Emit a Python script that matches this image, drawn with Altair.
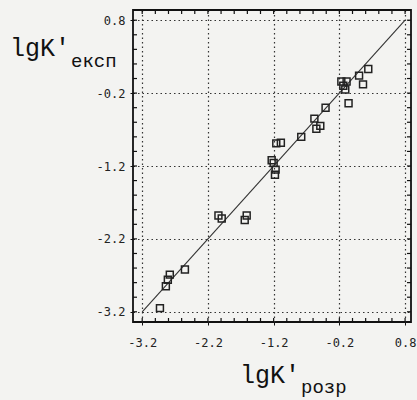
import altair as alt
import pandas as pd

# lgK'розр (x) and lgK'експ (y) of the points
x_rozr = [-0.17, -0.09, -0.14, -0.11, -0.06, 0.10, 0.16, 0.24, -0.41, -0.58,
          -0.49, -0.55, -0.78, -1.16, -1.09, -1.23, -1.20, -1.17, -1.18, -2.04,
          -1.99, -1.61, -1.64, -2.78, -2.81, -2.84, -2.55, -2.93]
y_eksp = [-0.04, -0.04, -0.10, -0.15, -0.34, 0.04, -0.08, 0.13, -0.40, -0.55,
          -0.65, -0.69, -0.80, -0.89, -0.88, -1.12, -1.16, -1.25, -1.32, -1.88,
          -1.92, -1.88, -1.94, -2.69, -2.76, -2.85, -2.62, -3.15]

# y = x line
line_x = [-3.2, 0.8]
line_y = [-3.2, 0.8]

major_ticks = [-3.2, -2.2, -1.2, -0.2, 0.8]
minor_ticks = [-3.2, -3.0, -2.8, -2.6, -2.4, -2.2, -2.0, -1.8, -1.6, -1.4, -1.2,
               -1.0, -0.8, -0.6, -0.4, -0.2, 0.0, 0.2, 0.4, 0.6, 0.8]

title_main = "lgK'"
y_sub = "експ"
x_sub = "розр"

W, H = 278, 312
XDOM = [-3.34, 0.89]
YDOM = [-3.34, 0.94]

pts = pd.DataFrame({"x": x_rozr, "y": y_eksp})
ln = pd.DataFrame({"x": line_x, "y": line_y})
mt = pd.DataFrame({"v": minor_ticks})

xs = alt.Scale(domain=XDOM, nice=False, zero=False)
ys = alt.Scale(domain=YDOM, nice=False, zero=False)

axis_common = dict(
    values=major_ticks,
    labelExpr="toString(datum.value)",
    grid=True,
    gridColor="#333",
    gridDash=[1.5, 3],
    gridWidth=1.2,
    domain=False,
    ticks=True,
    tickSize=3,
    tickColor="#111",
    labelFont="DejaVu Sans Mono",
    labelFontSize=12,
    labelColor="#222",
    title=None,
)

line = alt.Chart(ln).mark_line(color="#333", strokeWidth=1.1).encode(
    x=alt.X("x:Q", scale=xs, axis=alt.Axis(labelPadding=12, **axis_common)),
    y=alt.Y("y:Q", scale=ys, axis=alt.Axis(labelPadding=5, **axis_common)),
)

points = alt.Chart(pts).mark_point(
    shape="square", filled=False, size=48, color="#222", strokeWidth=1.5, opacity=1
).encode(x=alt.X("x:Q", scale=xs), y=alt.Y("y:Q", scale=ys))

tick_len = 4
rule_style = dict(color="#111", strokeWidth=1.2)
bottom_t = alt.Chart(mt).mark_rule(**rule_style).encode(
    x=alt.X("v:Q", scale=xs), y=alt.value(H), y2=alt.value(H - tick_len))
top_t = alt.Chart(mt).mark_rule(**rule_style).encode(
    x=alt.X("v:Q", scale=xs), y=alt.value(0), y2=alt.value(tick_len))
left_t = alt.Chart(mt).mark_rule(**rule_style).encode(
    y=alt.Y("v:Q", scale=ys), x=alt.value(0), x2=alt.value(tick_len))
right_t = alt.Chart(mt).mark_rule(**rule_style).encode(
    y=alt.Y("v:Q", scale=ys), x=alt.value(W), x2=alt.value(W - tick_len))


def text_label(txt, size, xv, yv):
    return alt.Chart(pd.DataFrame({"t": [txt]})).mark_text(
        font="Liberation Mono", fontSize=size, align="left",
        baseline="alphabetic", color="#111"
    ).encode(text="t:N", x=alt.value(xv), y=alt.value(yv))


yt_main = text_label(title_main, 25, -123, 46)
yt_sub = text_label(y_sub, 19, -62, 57)
xt_main = text_label(title_main, 25, 107, 373)
xt_sub = text_label(x_sub, 19, 168, 383)

chart = alt.layer(
    line, points, bottom_t, top_t, left_t, right_t,
    yt_main, yt_sub, xt_main, xt_sub
).properties(
    width=W, height=H,
    autosize=alt.AutoSizeParams(type="none"),
    padding={"left": 133, "top": 10, "right": 6, "bottom": 78},
    background="#f3f3f1",
).configure_view(
    stroke="#111", strokeWidth=1.8
)

chart.save("out.html", embed_options={"renderer": "svg", "actions": False})
